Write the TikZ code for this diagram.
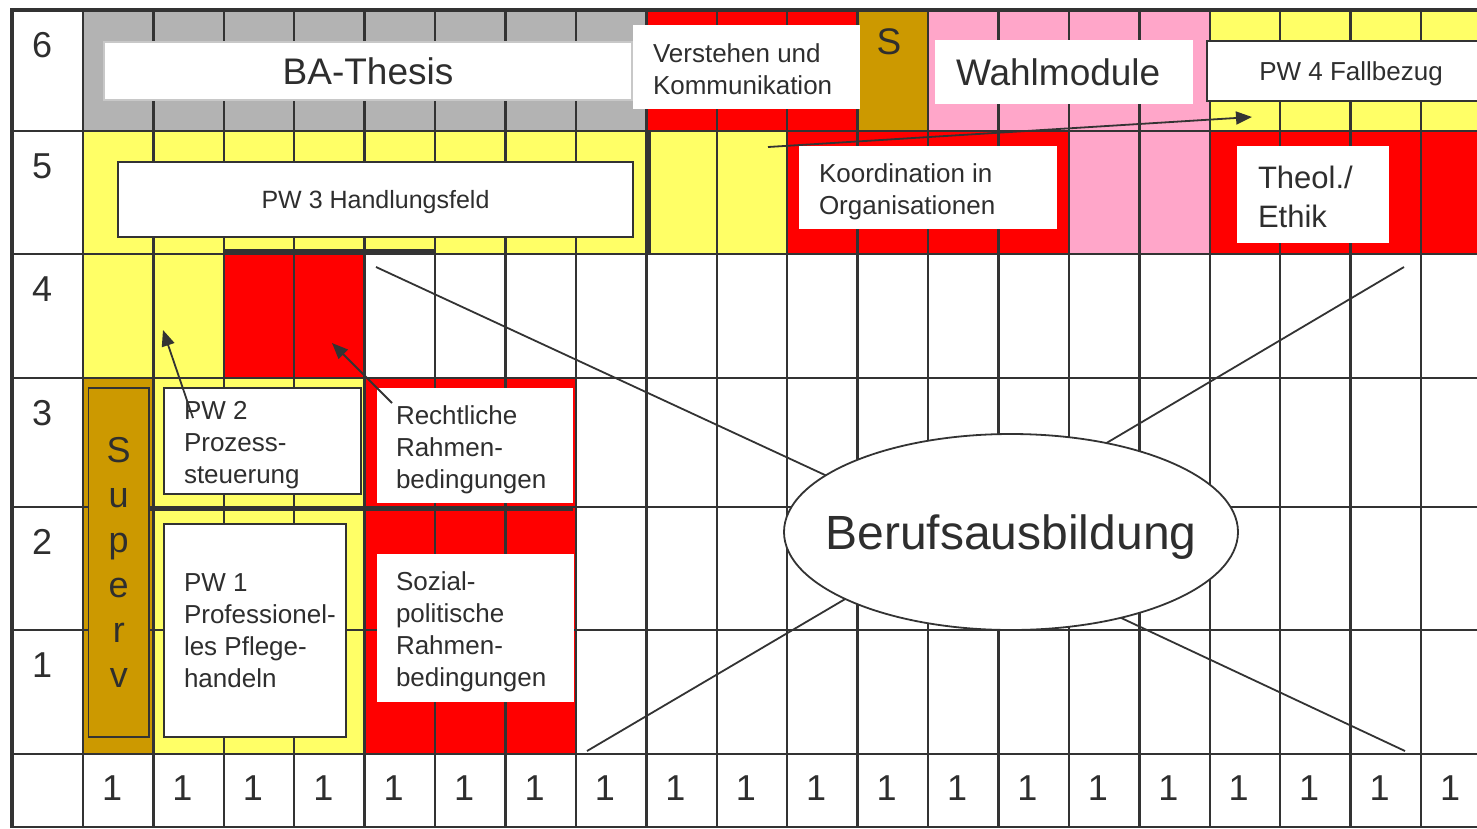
\documentclass[tikz,border=0pt]{standalone}
\usepackage{fontspec}
\setmainfont{Liberation Sans}
\usetikzlibrary{arrows.meta,shapes.geometric}
\definecolor{cyel}{HTML}{FFFF66}
\definecolor{cred}{HTML}{FF0000}
\definecolor{cgray}{HTML}{B3B3B3}
\definecolor{cpink}{HTML}{FFA6C9}
\definecolor{cbrown}{HTML}{CC9900}
\definecolor{linec}{HTML}{333333}
\definecolor{txtc}{HTML}{2E2E2E}
\definecolor{lgray}{HTML}{C8C8C8}
\newcommand{\shiftedtext}[3]{\raisebox{-#2}[\height][\depth]{\parbox[c]{#1}{\raggedright #3}}}
\begin{document}
\begin{tikzpicture}[x=1pt,y=-1pt,
  gridline/.style={draw=linec,line width=2.4pt},
  frameline/.style={draw=linec,line width=4.6pt},
  heavyline/.style={draw=linec,line width=5.5pt},
  base/.style={inner sep=0pt,outer sep=0pt,text=txtc},
  wbox/.style={base,fill=white,anchor=north west,inner xsep=20pt,font=\fontsize{26}{32}\selectfont},
  dbox/.style={wbox,draw=linec,line width=2pt},
  cbox/.style={base,fill=white,text depth=0pt},
  numlab/.style={base,anchor=base west,font=\fontsize{36}{36}\selectfont},
  arr/.style={draw=linec,line width=1.8pt,-{Triangle[length=16pt,width=13pt]}},
  diag/.style={draw=linec,line width=1.8pt},
]
\useasboundingbox (0,0) rectangle (1477,828);
\begin{scope}
\clip (0,0) rectangle (1477,828);
\fill[white] (0,0) rectangle (1477,828);
% row 6
\fill[cgray]  (83,10) rectangle (646.36,131);
\fill[cred]   (646.36,10) rectangle (857.62,131);
\fill[cbrown] (857.62,10) rectangle (928.04,131);
\fill[cpink]  (928.04,10) rectangle (1209.72,131);
\fill[cyel]   (1209.72,10) rectangle (1491,131);
% row 5
\fill[cyel]   (83,131) rectangle (787.2,254);
\fill[cred]   (787.2,131) rectangle (1068.88,254);
\fill[cpink]  (1068.88,131) rectangle (1209.72,254);
\fill[cred]   (1209.72,131) rectangle (1491,254);
% row 4
\fill[cyel]   (83,254) rectangle (223.84,378);
\fill[cred]   (223.84,254) rectangle (364.68,378);
% rows 3-1
\fill[cbrown] (83,378) rectangle (153.42,754);
\fill[cyel]   (153.42,378) rectangle (364.68,754);
\fill[cred]   (364.68,378) rectangle (575.94,754);
% grid
\foreach \i in {0,...,19} \draw[gridline] ({83+70.42*\i},10) -- ({83+70.42*\i},828);
\foreach \yy in {131,254,378,507,630,754,827} \draw[gridline] (12,\yy) -- (1477,\yy);
% heavy lines
\draw[heavyline] (223.84,252) -- (435.1,252);
\draw[draw=linec,line width=4.5pt] (649,131) -- (649,254);
\draw[heavyline] (149,508.5) -- (573,508.5);
\draw[frameline] (12,828) -- (12,10) -- (1477,10);
% row 6 boxes
\node[cbox,draw=lgray,line width=1.5pt,minimum width=528pt,minimum height=58pt,font=\fontsize{37}{40}\selectfont] (ba) at (368,71) {BA-Thesis};
\node[wbox,minimum width=227pt,minimum height=84pt] (verst) at (633,25) {\shiftedtext{187pt}{2pt}{Verstehen und\\Kommunikation}};
\node[base,font=\fontsize{37}{40}\selectfont] (stop) at (889,42) {S};
\node[wbox,inner xsep=21pt,minimum width=258pt,minimum height=64pt,text width=216pt,align=left,text depth=0pt,font=\fontsize{37}{40}\selectfont] (wahl) at (935,40) {Wahlmodule};
\node[cbox,draw=linec,line width=2pt,minimum width=288pt,minimum height=60pt,font=\fontsize{26}{30}\selectfont] (pw4) at (1351,71) {PW 4 Fallbezug};
% row 5 boxes
\node[cbox,draw=linec,line width=2pt,minimum width=515pt,minimum height=75pt,font=\fontsize{25}{30}\selectfont] (pw3) at (375.5,199.5) {PW 3 Handlungsfeld};
\node[wbox,minimum width=258pt,minimum height=83pt] (koord) at (799,146) {\shiftedtext{218pt}{4pt}{Koordination in\\Organisationen}};
\node[wbox,inner xsep=21pt,minimum width=152pt,minimum height=97pt,font=\fontsize{31}{39}\selectfont] (theol) at (1237,146) {\shiftedtext{110pt}{2pt}{Theol./\\Ethik}};
% left boxes
\node[base,fill=cbrown,draw=linec,line width=1.8pt,anchor=north west,minimum width=60.5pt,minimum height=349pt,align=center,font=\fontsize{36}{45}\selectfont] (sup) at (88.5,388) {S\\u\\p\\e\\r\\v};
\node[dbox,minimum width=197pt,minimum height=106pt] (pw2) at (164,388) {\shiftedtext{157pt}{4pt}{PW 2\\Prozess-\\steuerung}};
\node[wbox,inner xsep=19pt,minimum width=196pt,minimum height=115pt] (recht) at (377,388) {\shiftedtext{158pt}{4pt}{Rechtliche\\Rahmen-\\bedingungen}};
\node[dbox,minimum width=182pt,minimum height=213pt] (pw1) at (164,524) {\shiftedtext{142pt}{0pt}{PW 1\\\mbox{Professionel-}\\\mbox{les Pflege-}\\handeln}};
\node[wbox,inner xsep=19pt,minimum width=197pt,minimum height=148pt] (sozial) at (377,554) {\shiftedtext{159pt}{4pt}{Sozial-\\politische\\Rahmen-\\bedingungen}};
% labels
\foreach \r/\yy in {6/57,5/178,4/301,3/425,2/554,1/677} \node[numlab] (r\r) at (32,\yy) {\r};
\foreach \i in {0,...,19} \node[numlab] (n\i) at ({83+70.42*\i+19},800) {1};
% ellipse and diagonals
\node[base,ellipse,draw=linec,line width=1.8pt,fill=white,minimum width=454pt,minimum height=196pt,text depth=0pt,font=\fontsize{48}{50}\selectfont] (ell) at (1011,532) {\makebox[0pt]{Berufsausbildung}};
\coordinate (d1) at (376,267);
\coordinate (d2) at (1404,267);
\coordinate (d3) at (587,751);
\coordinate (d4) at (1405,751);
\draw[diag] (d1) -- (ell.163);
\draw[diag] (d2) -- (ell.43);
\draw[diag] (d3) -- (ell.202);
\draw[diag] (d4) -- (ell.322);
% arrows
\coordinate (a1s) at (193,418); \coordinate (a1e) at (163,330);
\coordinate (a2s) at (392,403); \coordinate (a2e) at (332,343);
\coordinate (a3s) at (768,147); \coordinate (a3e) at (1252,117);
\draw[arr] (a1s) -- (a1e);
\draw[arr] (a2s) -- (a2e);
\draw[arr] (a3s) -- (a3e);
\end{scope}
\end{tikzpicture}
\end{document}
